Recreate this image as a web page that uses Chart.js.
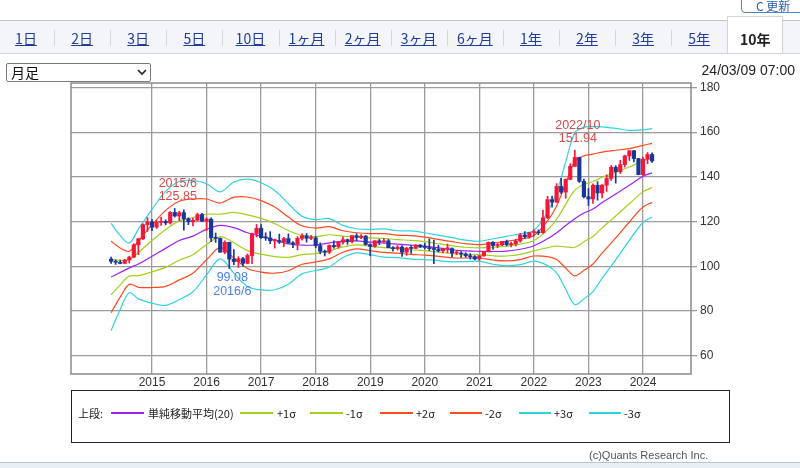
<!DOCTYPE html>
<html>
<head>
<meta charset="utf-8">
<script src="https://cdn.jsdelivr.net/npm/chart.js@4.4.1/dist/chart.umd.min.js"></script>
<style>
body { margin: 0; background: #fff; font-family: "Liberation Sans", "Noto Sans CJK JP", sans-serif; }
#wrap { position: relative; width: 800px; height: 468px; overflow: hidden; }
#c { position: absolute; left: 0; top: 0; }
.btn { position: absolute; left: 741px; top: -10px; width: 72px; height: 23px; border: 1.5px solid #4d86c9; border-radius: 4px; font: 12px "Noto Sans CJK JP"; color: #2b5fa8; line-height: 30px; padding-left: 14px; box-sizing: border-box; }
.tabs { position: absolute; left: 0; top: 20px; width: 800px; height: 32px; background: #f3f5fa; border-top: 1px solid #c4c4c4; border-bottom: 1px solid #d4d4d4; }
.tab { position: absolute; top: 0; width: 56px; height: 32px; line-height: 34px; padding-top: 7px; box-sizing: border-box; text-align: center; font: 14px "Noto Sans CJK JP"; color: #1f3d99; text-decoration: underline; }
.tab.on { top: -5px; height: 37px; line-height: 44px; padding-top: 0; background: #fff; color: #222; font-weight: bold; text-decoration: none; border: 1px solid #d4d4d4; border-bottom: none; }
.sep { position: absolute; top: 9px; height: 16px; border-left: 1px solid #d6d6d6; }
.sel { position: absolute; left: 6px; top: 63px; width: 145px; height: 19px; border: 1px solid #7a7a7a; border-radius: 2px; box-sizing: border-box; font: 14px "Noto Sans CJK JP"; line-height: 17px; padding-left: 4px; color: #111; }
.sel svg { position: absolute; right: 3px; top: 5px; }
.date { position: absolute; right: 5px; top: 62px; font: 14px "Liberation Sans"; color: #222; }
.legend { position: absolute; left: 71px; top: 390px; width: 659px; height: 53px; border: 1.5px solid #222; box-sizing: border-box; }
.lt { position: absolute; top: 405px; font: 11px "Noto Sans CJK JP"; color: #222; line-height: 16px; }
.ll { position: absolute; top: 412px; height: 1.5px; }
.copy { position: absolute; left: 589px; top: 449px; font: 11px "Liberation Sans"; color: #555; }
.foot { position: absolute; left: 0; top: 462px; width: 800px; height: 10px; background: #e9f0f5; border-top: 1px solid #b8c3cb; }
</style>
</head>
<body>
<div id="wrap">
  <canvas id="c" width="800" height="468"></canvas>
  <div class="btn">C 更新</div>
  <div class="tabs" id="tabs"></div>
  <div class="sel">月足<svg width="10" height="7"><path d="M1 1 L5 5 L9 1" stroke="#222" stroke-width="1.6" fill="none"/></svg></div>
  <div class="date">24/03/09 07:00</div>
  <div class="legend"></div>
  <div id="leg"></div>
  <div class="copy">(c)Quants Research Inc.</div>
  <div class="foot"></div>
</div>
<script>
// 月足 USD/JPY 2014/4 - 2024/3 (index 0 = 2014/4)
var opens = [
  103.2, 102.2, 101.8, 101.3, 102.8, 104.1, 109.6, 112.3, 118.6,
  119.8, 117.5, 119.6, 120.1, 119.4, 124.1, 122.5, 124.0, 121.2, 119.9, 120.6, 123.1,
  120.2, 121.1, 112.7, 112.5, 106.3, 110.7, 103.2, 102.1, 103.4, 101.3, 104.8, 114.5,
  117.0, 112.8, 112.7, 111.4, 111.5, 110.8, 112.4, 110.3, 110.0, 112.5, 113.6, 112.5,
  112.7, 109.2, 106.7, 106.3, 109.3, 108.8, 110.8, 111.9, 111.0, 113.7, 112.9, 113.5,
  109.7, 108.9, 111.4, 110.9, 111.4, 108.3, 107.9, 108.6, 106.3, 108.1, 108.0, 109.5,
  108.6, 108.4, 107.9, 107.5, 106.9, 107.8, 107.9, 105.9, 105.9, 105.5, 104.7, 104.3,
  103.3, 104.7, 106.6, 110.7, 109.3, 109.6, 111.1, 109.7, 110.0, 111.3, 114.0, 113.2,
  115.1, 115.1, 115.0, 121.7, 129.8, 128.7, 135.7, 133.2, 138.9, 144.7, 148.7, 138.0,
  131.1, 130.1, 136.2, 132.8, 136.3, 139.3, 144.3, 142.3, 145.5, 149.4, 151.7, 148.2,
  141.0, 147.9, 150.0
];
var highs = [
  104.1, 102.8, 102.8, 103.1, 104.5, 110.1, 112.5, 119.0, 121.8,
  121.0, 120.5, 122.0, 120.8, 124.5, 125.85, 124.6, 125.3, 121.7, 121.5, 123.8, 123.7,
  121.7, 121.7, 114.9, 112.7, 111.4, 110.8, 107.5, 104.3, 104.0, 105.5, 114.8, 118.7,
  118.6, 115.0, 115.5, 112.2, 114.4, 112.9, 114.5, 111.0, 113.3, 114.5, 114.7, 113.8,
  113.4, 110.5, 107.3, 109.6, 111.4, 111.0, 113.2, 112.2, 113.8, 114.6, 114.2, 113.8,
  110.0, 111.5, 112.1, 112.4, 112.0, 108.8, 109.3, 109.3, 108.5, 109.3, 109.7, 109.7,
  110.3, 112.2, 111.7, 109.4, 108.1, 109.9, 108.2, 107.1, 106.6, 106.1, 105.7, 104.8,
  104.9, 106.7, 110.9, 111.0, 110.2, 111.1, 111.7, 110.8, 112.1, 114.7, 115.5, 115.2,
  116.4, 116.3, 125.1, 131.3, 131.4, 137.0, 139.4, 139.1, 145.9, 151.94, 148.8, 139.0,
  134.8, 136.9, 137.9, 136.6, 140.9, 145.1, 145.0, 147.4, 149.7, 151.7, 151.9, 148.3,
  148.8, 150.9, 150.8
];
var lows = [
  101.3, 100.8, 101.1, 101.1, 101.5, 103.8, 105.2, 111.9, 115.6,
  115.9, 116.9, 118.3, 118.5, 118.9, 122.0, 120.4, 116.2, 118.6, 118.1, 120.3, 119.9,
  116.0, 111.0, 110.7, 106.3, 105.6, 99.08, 100.7, 99.5, 100.1, 101.2, 101.2, 113.1,
  112.5, 111.6, 110.1, 108.1, 110.2, 108.8, 110.6, 108.3, 107.3, 111.7, 110.8, 111.9,
  108.3, 105.6, 104.6, 105.7, 108.1, 108.1, 109.9, 109.8, 110.4, 111.4, 112.3, 109.5,
  104.7, 108.5, 109.7, 110.8, 108.3, 106.8, 107.2, 104.4, 104.9, 105.7, 107.9, 108.4,
  107.7, 107.0, 101.2, 106.4, 106.0, 106.1, 104.2, 105.2, 104.0, 104.0, 103.2, 102.9,
  102.6, 104.4, 106.4, 107.5, 108.3, 109.2, 109.1, 108.7, 109.1, 110.8, 112.5, 112.5,
  113.5, 114.1, 114.7, 121.3, 126.4, 128.6, 132.5, 130.4, 138.7, 144.6, 137.5, 130.6,
  127.2, 128.1, 129.6, 130.6, 133.5, 138.4, 137.2, 141.5, 144.4, 147.3, 146.7, 140.9,
  140.8, 145.9, 146.5
];
var closes = [
  102.2, 101.8, 101.3, 102.8, 104.1, 109.6, 112.3, 118.6, 119.8,
  117.5, 119.6, 120.1, 119.4, 124.1, 122.5, 124.0, 121.2, 119.9, 120.6, 123.1, 120.2,
  121.1, 112.7, 112.5, 106.3, 110.7, 103.2, 102.1, 103.4, 101.3, 104.8, 114.5, 117.0,
  112.8, 112.7, 111.4, 111.5, 110.8, 112.4, 110.3, 110.0, 112.5, 113.6, 112.5, 112.7,
  109.2, 106.7, 106.3, 109.3, 108.8, 110.8, 111.9, 111.0, 113.7, 112.9, 113.5, 109.7,
  108.9, 111.4, 110.9, 111.4, 108.3, 107.9, 108.6, 106.3, 108.1, 108.0, 109.5, 108.6,
  108.4, 107.9, 107.5, 106.9, 107.8, 107.9, 105.9, 105.9, 105.5, 104.7, 104.3, 103.3,
  104.7, 106.6, 110.7, 109.3, 109.6, 111.1, 109.7, 110.0, 111.3, 114.0, 113.2, 115.1,
  115.1, 115.0, 121.7, 129.8, 128.7, 135.7, 133.2, 138.9, 144.7, 148.7, 138.0, 131.1,
  130.1, 136.2, 132.8, 136.3, 139.3, 144.3, 142.3, 145.5, 149.4, 151.7, 148.2, 141.0,
  147.9, 150.0, 147.1
];

// 単純移動平均(20) と σ（読み取り値）
var bandT = [0, 2, 4, 6, 9, 12, 15, 18, 21, 24, 27, 30, 33, 36, 39, 42, 45, 48, 51, 54, 57, 60,
  63, 66, 69, 72, 75, 78, 81, 84, 87, 90, 93, 96, 98, 100, 102, 104, 106, 108, 111, 114, 117, 119];
var bandMid = [95.2, 97.2, 99.3, 101.0, 104.5, 108.0, 111.5, 113.5, 116.5, 118.3, 117.3, 115.0,
  113.4, 111.7, 110.0, 109.5, 109.5, 110.5, 111.1, 111.4, 110.8, 110.4, 109.9, 109.5, 109.0,
  108.2, 107.4, 106.9, 106.7, 106.6, 106.8, 107.6, 109.2, 112.3, 115.0, 118.2, 121.3, 123.8,
  125.6, 128.5, 132.3, 136.2, 140.3, 141.8];
var bandSigma = [8.0, 5.5, 3.7, 5.2, 7.0, 8.5, 8.8, 8.3, 6.8, 5.0, 6.8, 8.0, 8.0, 7.4, 6.0, 4.3,
  3.8, 3.6, 2.4, 1.8, 1.9, 2.1, 2.0, 2.1, 2.0, 1.9, 1.8, 1.6, 1.5, 1.9, 2.2, 2.3, 2.3, 4.0, 6.0,
  9.5, 12.8, 12.8, 12.3, 11.3, 9.8, 8.2, 6.9, 6.6];

var yearT = [9, 21, 33, 45, 57, 69, 81, 93, 105, 117];
var yearLabels = ['2015', '2016', '2017', '2018', '2019', '2020', '2021', '2022', '2023', '2024'];
var yTicks = [60, 80, 100, 120, 140, 160, 180];

var noteT = [14, 26, 102];
var noteV = [125.85, 99.08, 151.94];
var noteText = [['2015/6', '125.85'], ['99.08', '2016/6'], ['2022/10', '151.94']];

var UP = '#f5173a', DOWN = '#17379b';

// tabs
var tabNames = ['1日', '2日', '3日', '5日', '10日', '1ヶ月', '2ヶ月', '3ヶ月', '6ヶ月', '1年', '2年', '3年', '5年', '10年'];
var tabs = document.getElementById('tabs');
tabNames.forEach(function (n, i) {
  var d = document.createElement('div');
  d.className = 'tab' + (i === tabNames.length - 1 ? ' on' : '');
  d.style.left = (i * 56.1 - 2) + 'px';
  d.textContent = n;
  tabs.appendChild(d);
  if (i > 0 && i < tabNames.length - 1) {
    var s = document.createElement('div');
    s.className = 'sep';
    s.style.left = (i * 56.1 - 2) + 'px';
    tabs.appendChild(s);
  }
});

// legend
var legItems = [
  ['t', 78, '上段:'], ['l', 111, 33, '#a020f0'], ['t', 148, '単純移動平均(20)'],
  ['l', 240, 33, '#a5cf1c'], ['t', 277, '+1σ'], ['l', 310, 33, '#a5cf1c'], ['t', 346, '-1σ'],
  ['l', 380, 33, '#ff4a1f'], ['t', 416, '+2σ'], ['l', 450, 32, '#ff4a1f'], ['t', 485, '-2σ'],
  ['l', 519, 32, '#2fd3df'], ['t', 554, '+3σ'], ['l', 589, 32, '#2fd3df'], ['t', 624, '-3σ']
];
var leg = document.getElementById('leg');
legItems.forEach(function (it) {
  var d = document.createElement('div');
  if (it[0] === 't') { d.className = 'lt'; d.style.left = it[1] + 'px'; d.textContent = it[2]; }
  else { d.className = 'll'; d.style.left = it[1] + 'px'; d.style.width = it[2] + 'px'; d.style.background = it[3]; }
  leg.appendChild(d);
});

var bodies = [], wicks = [], colors = [];
for (var i = 0; i < closes.length; i++) {
  bodies.push({ x: i, y: [opens[i], closes[i]] });
  wicks.push({ x: i, y: [lows[i], highs[i]] });
  colors.push(closes[i] >= opens[i] ? UP : DOWN);
}

function band(k) {
  return bandT.map(function (t, j) { return { x: t, y: bandMid[j] + k * bandSigma[j] }; });
}
function lineDs(k, color) {
  return { type: 'line', data: band(k), borderColor: color, borderWidth: 1.2, pointRadius: 0, tension: 0.35, order: 2 };
}

var framePlugin = {
  id: 'frame',
  afterDraw: function (chart) {
    var ctx = chart.ctx, a = chart.chartArea, xs = chart.scales.x, ys = chart.scales.y;
    ctx.save();
    ctx.strokeStyle = '#8a8a8a';
    ctx.lineWidth = 1.5;
    ctx.strokeRect(a.left, a.top, a.right - a.left, a.bottom - a.top);
    ctx.font = '12.5px "Liberation Sans"';
    ctx.textAlign = 'center';
    ctx.textBaseline = 'middle';
    for (var n = 0; n < noteT.length; n++) {
      var px = xs.getPixelForValue(noteT[n]) + 3;
      var py = ys.getPixelForValue(noteV[n]);
      var below = n === 1;
      ctx.fillStyle = below ? '#4a7ff0' : '#d8494c';
      if (below) {
        ctx.fillText(noteText[n][0], px, py + 9);
        ctx.fillText(noteText[n][1], px, py + 23);
      } else {
        ctx.fillText(noteText[n][0], px, py - 25);
        ctx.fillText(noteText[n][1], px, py - 12);
      }
    }
    ctx.restore();
  }
};

new Chart(document.getElementById('c'), {
  type: 'bar',
  data: {
    datasets: [
      lineDs(3, '#2fd3df'), lineDs(-3, '#2fd3df'),
      lineDs(2, '#ff4a1f'), lineDs(-2, '#ff4a1f'),
      lineDs(1, '#a5cf1c'), lineDs(-1, '#a5cf1c'),
      lineDs(0, '#a020f0'),
      { data: wicks, backgroundColor: colors, barThickness: 1, grouped: false, order: 1 },
      { data: bodies, backgroundColor: colors, barThickness: 3.5, minBarLength: 1, grouped: false, order: 0 }
    ]
  },
  options: {
    responsive: false,
    animation: false,
    layout: { padding: { left: 71, top: 83, right: 69, bottom: 74 } },
    plugins: { legend: { display: false }, tooltip: { enabled: false } },
    scales: {
      x: {
        type: 'linear',
        min: -8.82,
        max: 127.56,
        offset: false,
        afterBuildTicks: function (s) { s.ticks = yearT.map(function (v) { return { value: v }; }); },
        afterFit: function (s) { s.height = 20; },
        grid: { color: '#9c9c9c', lineWidth: 1.3, drawTicks: false, offset: false },
        border: { display: false },
        ticks: {
          padding: 1,
          color: '#333',
          font: { family: 'Liberation Sans', size: 12 },
          maxRotation: 0,
          callback: function (v) { return yearLabels[yearT.indexOf(v)]; }
        }
      },
      y: {
        position: 'right',
        min: 51.8,
        max: 182,
        afterBuildTicks: function (s) { s.ticks = yTicks.map(function (v) { return { value: v }; }); },
        afterFit: function (s) { s.width = 40; },
        grid: { color: '#9c9c9c', lineWidth: 1.3, tickLength: 6 },
        border: { display: false },
        ticks: { padding: 3, color: '#333', font: { family: 'Liberation Sans', size: 12 } }
      }
    }
  },
  plugins: [framePlugin]
});
</script>
</body>
</html>
